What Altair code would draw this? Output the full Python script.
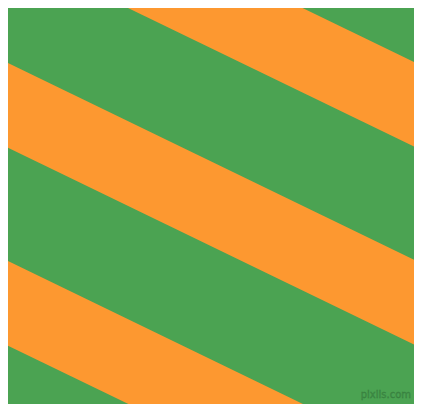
import altair as alt
import pandas as pd

# Stripe geometry (pixel units of the 422x412 canvas)
stripe_ids = ["s1", "s2", "s3"]
stripe_upper_at_left = [-148.5, 57.3, 263.3]   # y of stripe's upper edge at x=0
stripe_thickness = [88.0, 88.0, 88.0]          # vertical thickness
slope = 0.485                                   # dy/dx of stripes
x_ends = [0, 422]

GREEN = "#4ba352"
ORANGE = "#fd9830"

rows = []
for sid, up, th in zip(stripe_ids, stripe_upper_at_left, stripe_thickness):
    for x in x_ends:
        y = up + slope * x
        rows.append({"stripe": sid, "x": x, "y": y, "y2": y + th})
df = pd.DataFrame(rows)

xs = alt.Scale(domain=[0, 422], nice=False, zero=False)
ys = alt.Scale(domain=[0, 412], nice=False, zero=False, reverse=True)

stripes = alt.Chart(df).mark_area(color=ORANGE, clip=True, opacity=1).encode(
    x=alt.X("x:Q", scale=xs, axis=None),
    y=alt.Y("y:Q", scale=ys, axis=None),
    y2="y2:Q",
    detail="stripe:N",
)

wm = alt.Chart(pd.DataFrame({"t": ["pixlis.com"]})).mark_text(
    align="right", baseline="bottom", fontSize=10, font="DejaVu Sans",
    color="#3d8a45", stroke="#2f6f36", strokeWidth=0.3, opacity=0.8,
).encode(x=alt.value(403), y=alt.value(392), text="t:N")

chart = (stripes + wm).properties(
    width=406, height=396, padding=0, background=GREEN,
    autosize=alt.AutoSizeParams(type="none"),
).configure_view(stroke=None, fill=GREEN)

chart.save("out.html", embed_options={"renderer": "svg", "actions": False})
